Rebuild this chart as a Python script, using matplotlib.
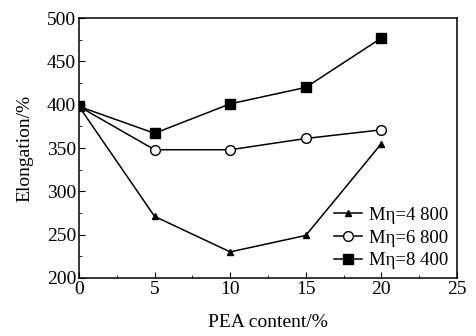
import numpy as np
import matplotlib
matplotlib.use('Agg')
import matplotlib.pyplot as plt
from matplotlib.ticker import MultipleLocator

plt.rcParams['font.family'] = ['Liberation Serif', 'DejaVu Serif']
plt.rcParams['font.size'] = 11

pea = [0, 5, 10, 15, 20]
elong_4800 = [398, 271, 230, 249, 355]
elong_6800 = [398, 348, 348, 361, 371]
elong_8400 = [398, 367, 401, 420, 477]
labels = ['M\u03b7=4 800', 'M\u03b7=6 800', 'M\u03b7=8 400']

fig = plt.figure(figsize=(4.76, 3.36), dpi=100)
ax = fig.add_axes([0.166, 0.173, 0.794, 0.773])

ax.plot(pea, elong_4800, 'k-', marker='^', ms=5, lw=1.1, label=labels[0])
ax.plot(pea, elong_6800, 'k-', marker='o', ms=7, mfc='white', lw=1.1, label=labels[1])
ax.plot(pea, elong_8400, 'k-', marker='s', ms=7, lw=1.1, label=labels[2])

ax.set_xlim(0, 25)
ax.set_ylim(200, 500)
ax.xaxis.set_major_locator(MultipleLocator(5))
ax.xaxis.set_minor_locator(MultipleLocator(2.5))
ax.yaxis.set_major_locator(MultipleLocator(50))
ax.yaxis.set_minor_locator(MultipleLocator(25))
ax.tick_params(which='both', direction='in', top=False, right=False, labelsize=14)
ax.tick_params(which='major', length=4, pad=2)
ax.tick_params(which='minor', length=2.5)
for s in ax.spines.values():
    s.set_linewidth(1.1)

ax.set_xlabel('PEA content/%', fontsize=14, labelpad=12)
ax.set_ylabel('Elongation/%', fontsize=14, labelpad=10)

ax.legend(loc='lower right', frameon=False, fontsize=13.5, handlelength=1.5,
          handletextpad=0.4, labelspacing=0.3, borderaxespad=0.05)

fig.savefig('out.png', dpi=100)
